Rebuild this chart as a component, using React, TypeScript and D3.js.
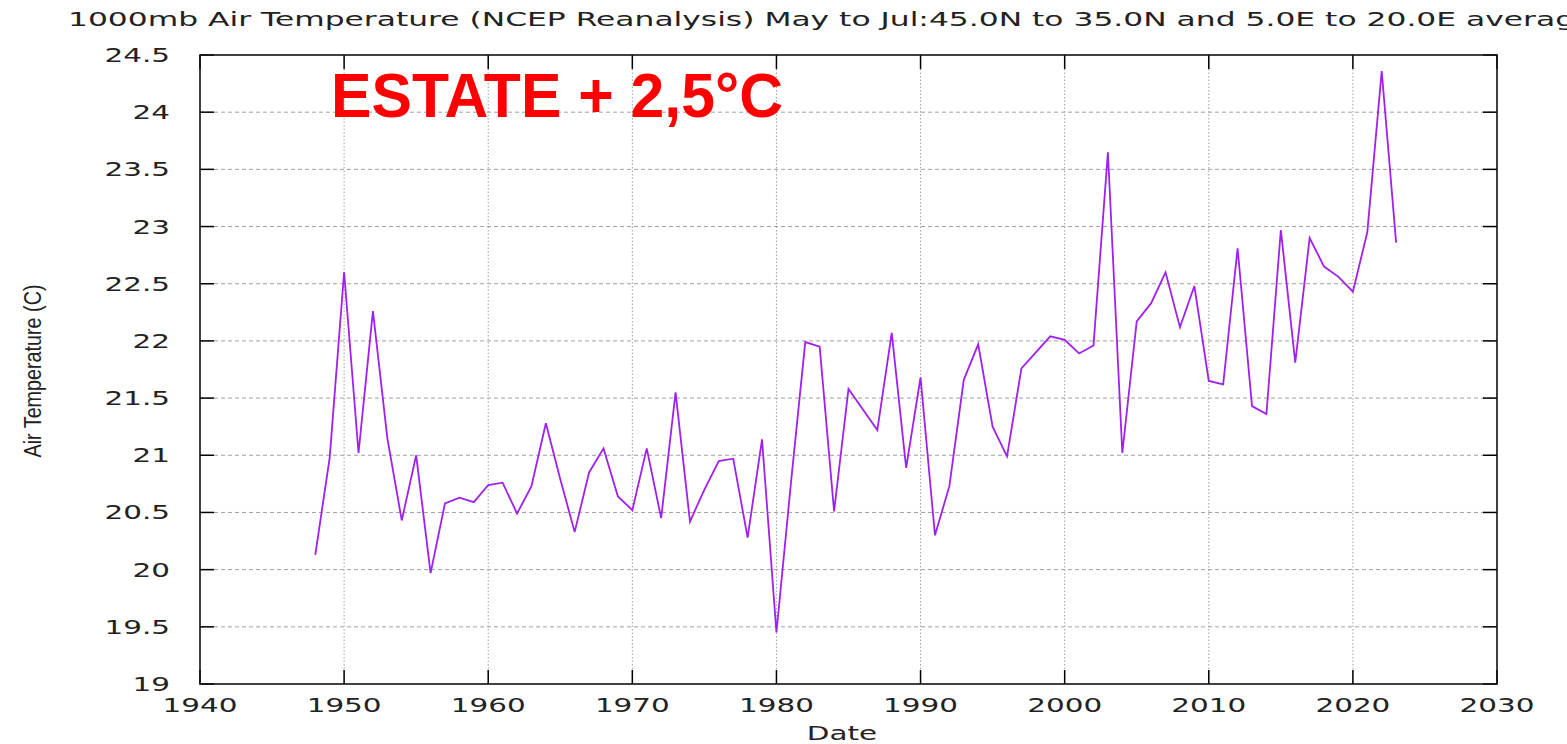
import React from "react";
import * as d3 from "d3";

const years = d3.range(1948, 2024);
const temps = [
  20.13, 20.98, 22.6, 21.02, 22.26, 21.15, 20.43, 21.0, 19.97, 20.58,
  20.63, 20.59, 20.74, 20.76, 20.49, 20.73, 21.28, 20.79, 20.33, 20.85,
  21.06, 20.64, 20.52, 21.06, 20.45, 21.55, 20.42, 20.7, 20.95, 20.97,
  20.28, 21.14, 19.45, 20.75, 21.99, 21.95, 20.51, 21.58, 21.4, 21.22,
  22.07, 20.89, 21.68, 20.3, 20.73, 21.66, 21.97, 21.25, 20.99, 21.76,
  21.9, 22.04, 22.01, 21.89, 21.96, 23.65, 21.02, 22.17, 22.33, 22.6,
  22.12, 22.48, 21.65, 21.62, 22.81, 21.43, 21.36, 22.97, 21.81, 22.9,
  22.65, 22.56, 22.43, 22.95, 24.36, 22.86,
];
const xTicks = d3.range(1940, 2031, 10);
const yTicks = d3.range(19, 24.51, 0.5);

const title =
  "1000mb Air Temperature (NCEP Reanalysis) May to Jul:45.0N to 35.0N and 5.0E to 20.0E average";
const overlay = "ESTATE + 2,5°C";

const W = 1567;
const H = 744;
const plot = { left: 200, right: 1497, top: 55, bottom: 684 };
const font = "DejaVu Sans, sans-serif";

// gnuplot output was stretched sideways, so text gets a horizontal scale
const Stretched: React.FC<{
  x: number;
  y: number;
  anchor?: string;
  size: number;
  sx?: number;
  children: React.ReactNode;
}> = ({ x, y, anchor = "start", size, sx = 1.55, children }) => (
  <text
    transform={`translate(${x},${y}) scale(${sx},1)`}
    textAnchor={anchor}
    fontFamily={font}
    fontSize={size}
    fill="#222"
  >
    {children}
  </text>
);

export default function App() {
  const x = d3.scaleLinear().domain([1940, 2030]).range([plot.left, plot.right]);
  const y = d3.scaleLinear().domain([19, 24.5]).range([plot.bottom, plot.top]);
  const line = d3
    .line<number>()
    .x((_, i) => x(years[i]))
    .y((d) => y(d));

  return (
    <svg width={W} height={H} style={{ position: "absolute", left: 0, top: 0, background: "#fff" }}>
      <rect width={W} height={H} fill="#fff" />
      {/* grid */}
      {yTicks.slice(1, -1).map((t) => (
        <line key={"gy" + t} x1={plot.left} x2={plot.right} y1={y(t)} y2={y(t)} stroke="#a0a0a0" strokeDasharray="4 3" />
      ))}
      {xTicks.slice(1, -1).map((t) => (
        <line key={"gx" + t} x1={x(t)} x2={x(t)} y1={plot.top} y2={plot.bottom} stroke="#a0a0a0" strokeDasharray="1.5 2" />
      ))}
      {/* ticks, mirrored on all sides */}
      {yTicks.map((t) => (
        <g key={"ty" + t}>
          <line x1={plot.left} x2={plot.left + 14} y1={y(t)} y2={y(t)} stroke="#000" strokeWidth={1.5} />
          <line x1={plot.right - 14} x2={plot.right} y1={y(t)} y2={y(t)} stroke="#000" strokeWidth={1.5} />
          <Stretched x={170} y={y(t) + 7} anchor="end" size={19}>
            {String(t)}
          </Stretched>
        </g>
      ))}
      {xTicks.map((t) => (
        <g key={"tx" + t}>
          <line x1={x(t)} x2={x(t)} y1={plot.bottom} y2={plot.bottom - 14} stroke="#000" strokeWidth={1.5} />
          <line x1={x(t)} x2={x(t)} y1={plot.top} y2={plot.top + 14} stroke="#000" strokeWidth={1.5} />
          <Stretched x={x(t)} y={712} anchor="middle" size={19}>
            {String(t)}
          </Stretched>
        </g>
      ))}
      <rect
        x={plot.left}
        y={plot.top}
        width={plot.right - plot.left}
        height={plot.bottom - plot.top}
        fill="none"
        stroke="#111"
        strokeWidth={1.6}
      />
      <path d={line(temps) || ""} fill="none" stroke="#a020f0" strokeWidth={1.8} />
      <Stretched x={68} y={26} size={19} sx={1.65}>
        {title}
      </Stretched>
      <Stretched x={842} y={740} anchor="middle" size={19}>
        Date
      </Stretched>
      <text
        transform={`translate(41,371) rotate(-90)`}
        textAnchor="middle"
        fontFamily="Liberation Sans Narrow, Liberation Sans, sans-serif"
        fontSize={23}
        textLength={173}
        lengthAdjust="spacingAndGlyphs"
        fill="#222"
      >
        Air Temperature (C)
      </text>
      <text
        x={331}
        y={117}
        fontFamily="Liberation Sans Narrow, Liberation Sans, sans-serif"
        fontWeight="bold"
        fontSize={63}
        textLength={452}
        lengthAdjust="spacingAndGlyphs"
        fill="#ff0000"
      >
        {overlay}
      </text>
    </svg>
  );
}
